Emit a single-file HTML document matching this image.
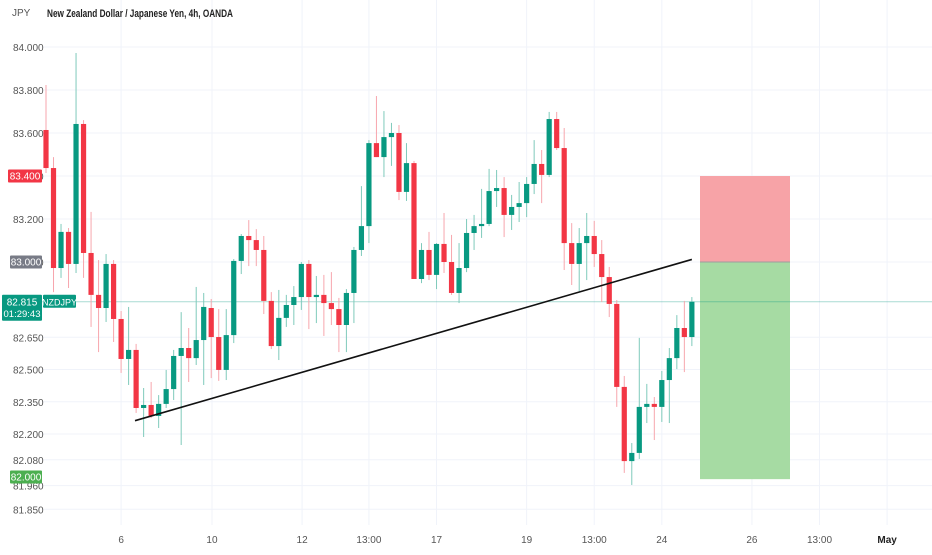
<!DOCTYPE html>
<html><head><meta charset="utf-8">
<style>
html,body{margin:0;padding:0;background:#fff;}
body{width:932px;height:550px;overflow:hidden;font-family:"Liberation Sans",sans-serif;}
svg text{font-family:"Liberation Sans",sans-serif;}
</style></head>
<body>
<svg id="chart" width="932" height="550" viewBox="0 0 932 550" xmlns="http://www.w3.org/2000/svg">
<g id="grid"></g>
<g id="yaxis"></g>
<g id="xaxis"></g>
<rect id="pos-red" fill="#f7a3a7"/>
<rect id="pos-green" fill="#a6dba3"/>
<line id="cur-line" stroke="#089981" stroke-opacity="0.35" stroke-width="1"/>
<g id="candles"></g>
<line id="trend" stroke="#111" stroke-width="1.6"/>
<g id="labels"></g>
<text x="12" y="16" font-size="10" fill="#555">JPY</text>
<text x="47" y="17" font-size="11" font-weight="bold" fill="#222" textLength="186" lengthAdjust="spacingAndGlyphs">New Zealand Dollar / Japanese Yen, 4h, OANDA</text>
</svg>
<script>
const opens=[83.614,83.437,82.972,83.140,82.991,83.642,83.042,82.847,82.786,82.991,82.735,82.549,82.591,82.321,82.335,82.284,82.340,82.409,82.563,82.600,82.553,82.637,82.786,82.651,82.498,82.660,83.005,83.121,83.102,83.056,82.819,82.609,82.740,82.800,82.837,82.991,82.837,82.847,82.809,82.781,82.707,82.856,83.056,83.167,83.553,83.488,83.581,83.600,83.326,83.460,82.921,83.056,82.940,83.084,83.000,82.856,82.972,83.135,83.167,83.177,83.330,83.344,83.219,83.256,83.274,83.363,83.456,83.405,83.665,83.530,83.088,82.991,83.088,83.121,83.037,82.930,82.805,82.419,82.074,82.112,82.326,82.340,82.326,82.451,82.553,82.693,82.651];
const closes=[83.437,82.972,83.140,82.991,83.642,83.042,82.847,82.786,82.991,82.735,82.549,82.591,82.321,82.335,82.284,82.340,82.409,82.563,82.600,82.553,82.637,82.791,82.651,82.498,82.660,83.005,83.121,83.102,83.056,82.819,82.609,82.740,82.800,82.837,82.991,82.837,82.847,82.809,82.781,82.707,82.856,83.056,83.167,83.553,83.488,83.581,83.600,83.326,83.460,82.921,83.056,82.940,83.084,83.000,82.856,82.972,83.135,83.167,83.177,83.330,83.344,83.219,83.256,83.274,83.363,83.456,83.405,83.665,83.530,83.088,82.991,83.088,83.121,83.037,82.930,82.805,82.419,82.074,82.112,82.326,82.340,82.326,82.451,82.553,82.693,82.651,82.815];
const highs=[83.823,83.488,83.177,83.158,83.972,83.660,83.233,83.009,83.037,83.009,82.772,82.791,82.619,82.414,82.442,82.381,82.498,82.591,82.767,82.693,82.884,82.856,82.828,82.781,82.781,83.014,83.130,83.195,83.153,83.121,82.860,82.870,82.847,82.888,83.000,83.009,82.935,82.940,82.953,82.833,82.874,83.070,83.353,83.567,83.772,83.702,83.647,83.637,83.553,83.470,83.088,83.140,83.088,83.228,83.126,83.088,83.200,83.219,83.340,83.433,83.428,83.395,83.312,83.372,83.395,83.567,83.521,83.698,83.698,83.623,83.181,83.158,83.228,83.191,83.102,82.977,82.823,82.470,82.158,82.647,82.433,82.372,82.493,82.600,82.753,82.819,82.837];
const lows=[83.414,82.860,82.926,82.879,82.949,82.926,82.698,82.581,82.721,82.628,82.484,82.428,82.298,82.186,82.274,82.228,82.321,82.358,82.149,82.442,82.521,82.428,82.460,82.447,82.451,82.623,82.944,82.981,82.981,82.758,82.595,82.544,82.698,82.707,82.777,82.688,82.716,82.656,82.707,82.581,82.581,82.716,83.028,83.088,83.488,83.395,83.447,83.288,83.284,82.921,82.902,82.916,82.874,82.949,82.847,82.809,82.953,83.056,83.112,83.167,83.256,83.116,83.149,83.186,83.209,83.316,83.274,83.395,83.521,82.963,82.893,82.865,82.916,82.977,82.814,82.744,82.326,82.019,81.963,82.084,82.251,82.172,82.256,82.251,82.502,82.488,82.609];
const priceTicks=[84.000,83.800,83.600,83.400,83.200,83.000,82.650,82.500,82.350,82.200,82.080,81.960,81.850];
const timeLabels=["6","10","12","13:00","17","19","13:00","24","26","13:00","May"];
const timeIndex=[10,22.1,34.1,43,52,64,73,82,94,103,112];
const trendStart=[11.85,82.262];
const trendEnd=[86,83.012];
const stopPrice=83.400, entryPrice=83.000, targetPrice=81.990, lastPrice=82.815;

const NS="http://www.w3.org/2000/svg";
const x0=46, step=7.51;
function xs(i){return x0+step*i;}
function ys(p){return 47+(84-p)*215;}
function mk(tag,attrs,parent){const e=document.createElementNS(NS,tag);for(const k in attrs)e.setAttribute(k,attrs[k]);parent.appendChild(e);return e;}

const grid=document.getElementById('grid');
const yaxis=document.getElementById('yaxis');
priceTicks.forEach(p=>{
  const l=mk('line',{x1:42,x2:932,y1:ys(p),y2:ys(p),stroke:'#f0f3fa','stroke-width':1},grid);
  
  
  const t=mk('text',{x:13,y:ys(p)+4,'font-size':10,fill:'#555'},yaxis);
  t.textContent=p.toFixed(3);
  
  
});
const xaxis=document.getElementById('xaxis');
timeLabels.forEach((s,k)=>{
  const x=xs(timeIndex[k]);
  const l=mk('line',{x1:x,x2:x,y1:0,y2:525,stroke:'#f0f3fa','stroke-width':1},grid);
  
  
  const t=mk('text',{x:x,y:543,'font-size':10,fill:s==='May'?'#222':'#555','text-anchor':'middle','font-weight':s==='May'?'bold':'normal'},xaxis);
  t.textContent=s;
  
  
});

const bx=700,bw=90;
const pr=document.getElementById('pos-red');
pr.setAttribute('x',bx);pr.setAttribute('width',bw);pr.setAttribute('y',ys(stopPrice));pr.setAttribute('height',ys(entryPrice)-ys(stopPrice));
const pg=document.getElementById('pos-green');
pg.setAttribute('x',bx);pg.setAttribute('width',bw);pg.setAttribute('y',ys(entryPrice));pg.setAttribute('height',ys(targetPrice)-ys(entryPrice));
mk('line',{x1:bx,x2:bx+bw,y1:ys(entryPrice),y2:ys(entryPrice),stroke:'#9e9e9e','stroke-width':1},document.getElementById('chart'));

const cl=document.getElementById('cur-line');
cl.setAttribute('x1',42);cl.setAttribute('x2',932);cl.setAttribute('y1',ys(lastPrice));cl.setAttribute('y2',ys(lastPrice));

const cg=document.getElementById('candles');
opens.forEach((o,i)=>{
  const c=closes[i],h=highs[i],lo=lows[i];
  const up=c>=o, col=up?'#089981':'#f23645', wcol=up?'#7fcabb':'#f7a6ad';
  const x=xs(i);
  const w=mk('line',{x1:x,x2:x,y1:ys(h),y2:ys(lo),stroke:wcol,'stroke-width':1},cg);
  
  
  const top=ys(Math.max(o,c)),bot=ys(Math.min(o,c));
  const b=mk('rect',{x:x-2.6,y:top,width:5.2,height:Math.max(1.2,bot-top),fill:col},cg);
  
  
});

const tr=document.getElementById('trend');
tr.setAttribute('x1',xs(trendStart[0]));tr.setAttribute('y1',ys(trendStart[1]));
tr.setAttribute('x2',xs(trendEnd[0]));tr.setAttribute('y2',ys(trendEnd[1]));

const lg=document.getElementById('labels');
function tag(p,text,bg,fg,name,x,w,h){
  const y=ys(p);
  const r=mk('rect',{x:x,y:y-h/2,width:w,height:h,fill:bg,rx:1},lg);
  
  
  const t=mk('text',{x:x+w/2,y:y+3.6,'font-size':10,fill:fg,'text-anchor':'middle'},lg);
  t.textContent=text;
  
  
}
tag(stopPrice,'83.400','#f23645','#fff','stop-price-label',8,34,13);
tag(entryPrice,'83.000','#787b86','#fff','entry-price-label',10,32,13);
tag(targetPrice+0.01,'82.000','#4caf50','#fff','target-price-label',10,32,13);
const ly=ys(lastPrice);
const lb=mk('rect',{x:2,y:ly-7,width:40,height:26,fill:'#089981',rx:1},lg);


const lt=mk('text',{x:22,y:ly+3.5,'font-size':10,fill:'#fff','text-anchor':'middle'},lg);
lt.textContent='82.815';


const ct=mk('text',{x:22,y:ly+15,'font-size':9.5,fill:'#fff','text-anchor':'middle'},lg);
ct.textContent='01:29:43';


const sb=mk('rect',{x:43,y:ly-7,width:33,height:13,fill:'#089981',rx:1},lg);


const st=mk('text',{x:59.5,y:ly+3.5,'font-size':9,fill:'#fff','text-anchor':'middle'},lg);
st.textContent='NZDJPY';


</script>
</body></html>
